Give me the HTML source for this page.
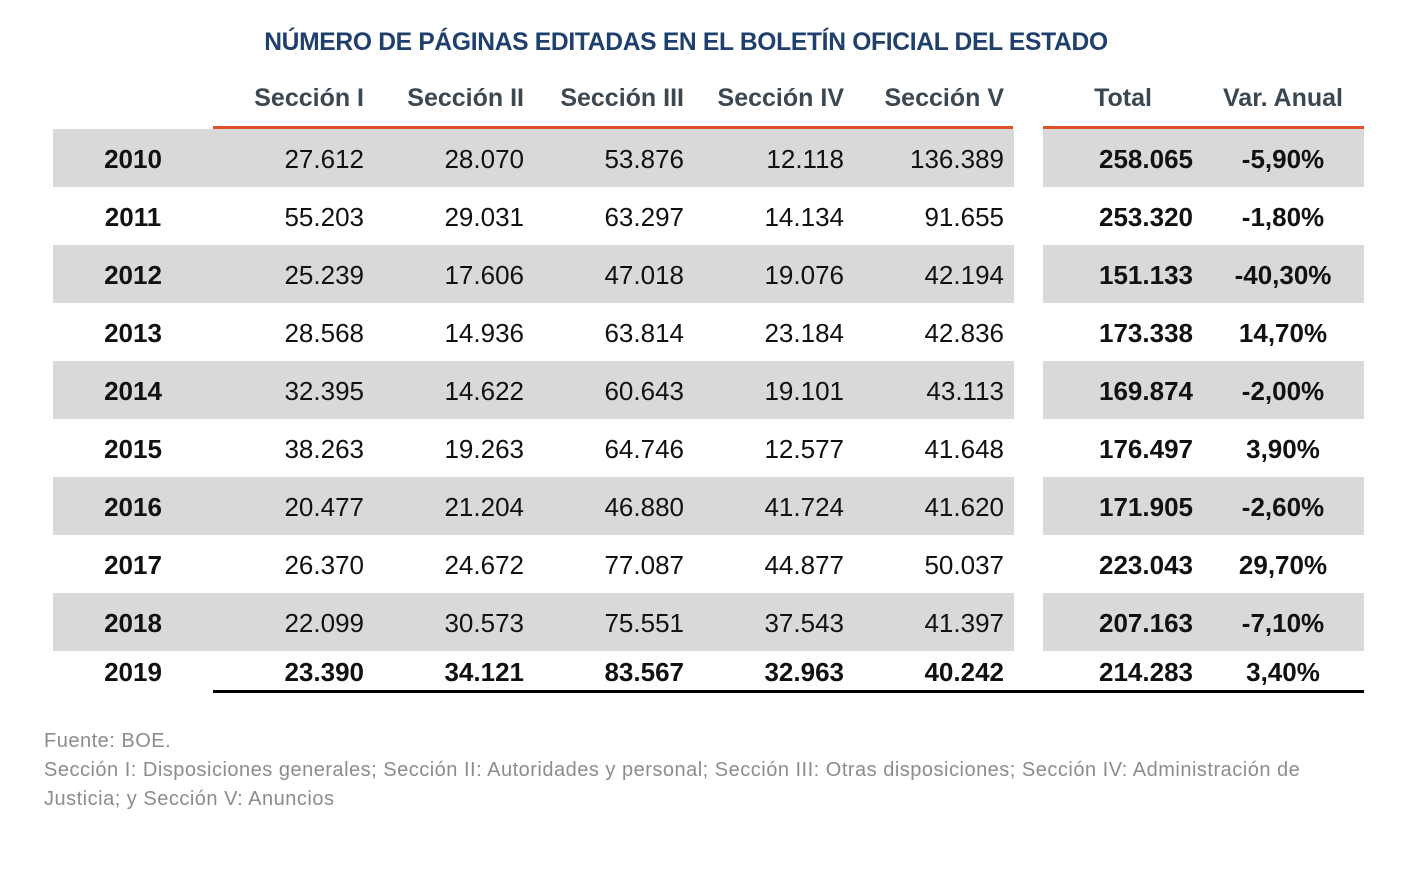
<!DOCTYPE html>
<html><head><meta charset="utf-8">
<style>
body{margin:0;width:1424px;height:874px;background:#fff;position:relative;font-family:"Liberation Sans",sans-serif;overflow:hidden}
.a{position:absolute;white-space:nowrap;line-height:1}
.title{left:0;width:1372px;text-align:center;top:31px;font-size:24.6px;font-weight:bold;color:#1f3f6e;letter-spacing:-0.3px}
.hd{top:86px;font-size:25px;font-weight:bold;color:#3b4751}
.c{font-size:26px;color:#111}
.fn{left:44px;font-size:20px;color:#8c8c8c;letter-spacing:0.5px}
</style></head><body>
<div class="a title">NÚMERO DE PÁGINAS EDITADAS EN EL BOLETÍN OFICIAL DEL ESTADO</div>
<div id="t"></div>
<div class="a fn" style="top:731px">Fuente: BOE.</div>
<div class="a fn" style="top:760px">Sección I: Disposiciones generales; Sección II: Autoridades y personal; Sección III: Otras disposiciones; Sección IV: Administración de</div>
<div class="a fn" style="top:789px">Justicia; y Sección V: Anuncios</div>
<script>
const headers=["Sección I","Sección II","Sección III","Sección IV","Sección V","Total","Var. Anual"];
const years=["2010","2011","2012","2013","2014","2015","2016","2017","2018","2019"];
const s1=["27.612","55.203","25.239","28.568","32.395","38.263","20.477","26.370","22.099","23.390"];
const s2=["28.070","29.031","17.606","14.936","14.622","19.263","21.204","24.672","30.573","34.121"];
const s3=["53.876","63.297","47.018","63.814","60.643","64.746","46.880","77.087","75.551","83.567"];
const s4=["12.118","14.134","19.076","23.184","19.101","12.577","41.724","44.877","37.543","32.963"];
const s5=["136.389","91.655","42.194","42.836","43.113","41.648","41.620","50.037","41.397","40.242"];
const total=["258.065","253.320","151.133","173.338","169.874","176.497","171.905","223.043","207.163","214.283"];
const varAnual=["-5,90%","-1,80%","-40,30%","14,70%","-2,00%","3,90%","-2,60%","29,70%","-7,10%","3,40%"];
const t=document.getElementById('t');
function el(css,txt,cls){const d=document.createElement('div');d.className='a '+(cls||'');d.style.cssText=css;if(txt!=null)d.textContent=txt;t.appendChild(d);return d;}
const rights=[364,524,684,844,1004,1193];
headers.forEach((h,i)=>{
  let d;
  if(i<5) d=el('right:'+(1424-rights[i])+'px',h,'hd');
  else if(i===5) d=el('left:1043px;width:160px;text-align:center',h,'hd');
  else d=el('left:1203px;width:160px;text-align:center',h,'hd');
  
  
});
let o=el('left:213px;top:126px;width:800px;height:3px;background:#e0502a');


o=el('left:1043px;top:126px;width:321px;height:3px;background:#e0502a');


const cols=[s1,s2,s3,s4,s5,total];
years.forEach((y,r)=>{
  const top=129+r*58;
  const last=r===years.length-1;
  if(r%2===0&&!last){
    let g=el('left:53px;top:'+top+'px;width:961px;height:58px;background:#d9d9d9');
    
    
    g=el('left:1043px;top:'+top+'px;width:321px;height:58px;background:#d9d9d9');
    
    
  }
  const ty=last?top+8:top+17;
  let d=el('left:53px;width:160px;text-align:center;top:'+ty+'px;font-weight:bold',y,'c');
  
  
  cols.forEach((c,i)=>{
    const b=(last||i===5)?';font-weight:bold':'';
    const e=el('right:'+(1424-rights[i])+'px;top:'+ty+'px'+b,c[r],'c');
    
    
  });
  d=el('left:1203px;width:160px;text-align:center;top:'+ty+'px;font-weight:bold',varAnual[r],'c');
  
  
});
o=el('left:213px;top:690px;width:1151px;height:3px;background:#000');


</script>
</body></html>
